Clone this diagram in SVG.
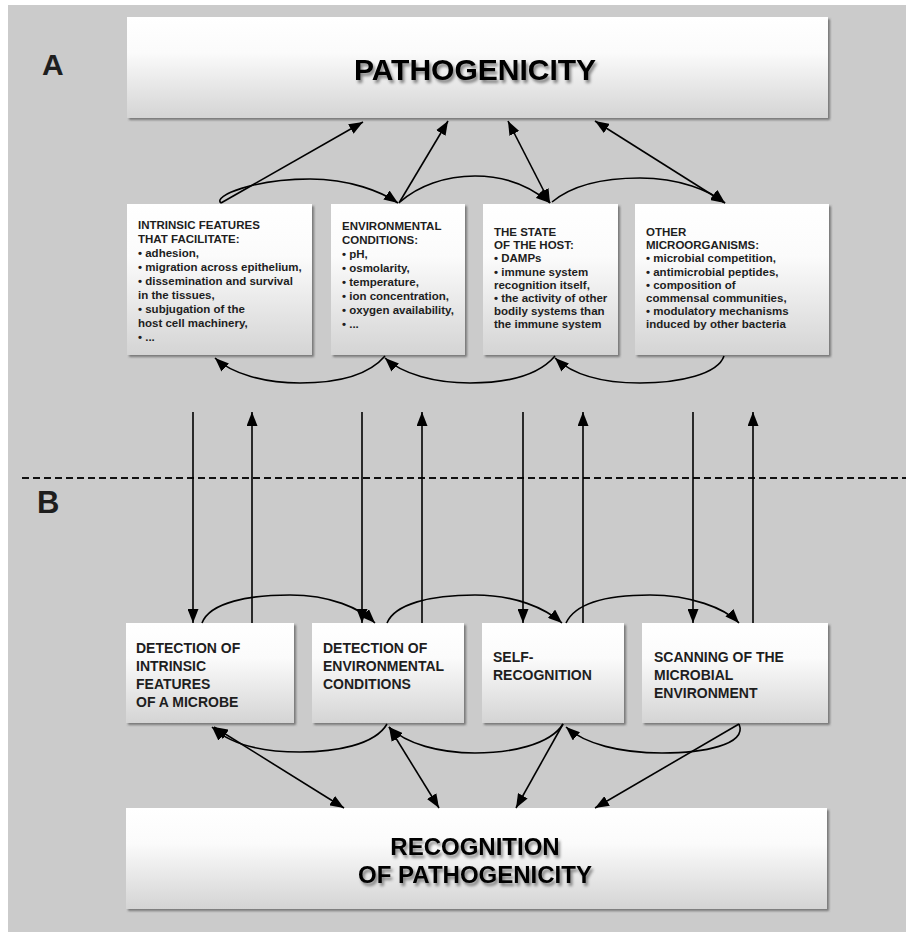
<svg xmlns="http://www.w3.org/2000/svg" width="906" height="932" viewBox="0 0 906 932">
<defs>
<linearGradient id="boxg" x1="0" y1="0" x2="0" y2="1">
<stop offset="0" stop-color="#ffffff"/>
<stop offset="0.35" stop-color="#fbfbfb"/>
<stop offset="1" stop-color="#d4d4d4"/>
</linearGradient>
<filter id="sh" x="-5%" y="-5%" width="112%" height="115%">
<feDropShadow dx="2" dy="2" stdDeviation="1" flood-color="#555" flood-opacity="0.7"/>
</filter>
<filter id="tsh" x="-5%" y="-20%" width="115%" height="150%">
<feDropShadow dx="2" dy="3" stdDeviation="1.5" flood-color="#000" flood-opacity="0.45"/>
</filter>
<marker id="ah" viewBox="0 0 14 11" refX="14" refY="5.5" markerWidth="14" markerHeight="11" markerUnits="userSpaceOnUse" orient="auto-start-reverse">
<path d="M0,0 L14,5.5 L0,11 z" fill="#000"/>
</marker>
<style>
.box{fill:url(#boxg);filter:url(#sh)}
.t{font-family:"Liberation Sans",Arial,sans-serif;font-weight:bold;fill:#1e1e1e}
.s{font-size:11.5px}
.m{font-size:14px}
.big{font-family:"Liberation Sans",Arial,sans-serif;font-weight:bold;fill:#000;filter:url(#tsh)}
.c{fill:none;stroke:#000;stroke-width:1.6}
.a{marker-end:url(#ah)}
.d{marker-start:url(#ah);marker-end:url(#ah)}
</style>
</defs>
<rect x="0" y="0" width="906" height="932" fill="#ffffff"/>
<rect x="8" y="5" width="898" height="927" fill="#cbcbcb"/>

<text class="t" x="42" y="75" font-size="30" fill="#000">A</text>
<text class="t" x="37" y="513" font-size="31" fill="#000">B</text>

<line x1="22" y1="478" x2="906" y2="478" stroke="#111" stroke-width="2" stroke-dasharray="7 4"/>

<g id="pathogenicity">
<rect class="box" x="127" y="17" width="701" height="101"/>
<text class="big" x="475" y="80" font-size="30" text-anchor="middle">PATHOGENICITY</text>
</g>

<g id="intrinsic">
<rect class="box" x="127" y="204" width="185" height="151"/>
<text class="t s" x="138" y="229">INTRINSIC FEATURES</text>
<text class="t s" x="138" y="243">THAT FACILITATE:</text>
<text class="t s" x="138" y="257">• adhesion,</text>
<text class="t s" x="138" y="271">• migration across  epithelium,</text>
<text class="t s" x="138" y="285">• dissemination and survival</text>
<text class="t s" x="138" y="299">in the tissues,</text>
<text class="t s" x="138" y="313">• subjugation of the</text>
<text class="t s" x="138" y="327">host cell machinery,</text>
<text class="t s" x="138" y="341">• ...</text>
</g>

<g id="environmental">
<rect class="box" x="331" y="204" width="134" height="151"/>
<text class="t s" x="342" y="230">ENVIRONMENTAL</text>
<text class="t s" x="342" y="244">CONDITIONS:</text>
<text class="t s" x="342" y="258">• pH,</text>
<text class="t s" x="342" y="272">• osmolarity,</text>
<text class="t s" x="342" y="286">• temperature,</text>
<text class="t s" x="342" y="300">• ion concentration,</text>
<text class="t s" x="342" y="314">• oxygen  availability,</text>
<text class="t s" x="342" y="328">• ...</text>
</g>

<g id="host">
<rect class="box" x="483" y="204" width="135" height="151"/>
<text class="t s" x="494" y="236">THE STATE</text>
<text class="t s" x="494" y="249">OF THE HOST:</text>
<text class="t s" x="494" y="262">• DAMPs</text>
<text class="t s" x="494" y="276">• immune system</text>
<text class="t s" x="494" y="289">recognition itself,</text>
<text class="t s" x="494" y="302">• the activity of other</text>
<text class="t s" x="494" y="315">bodily systems  than</text>
<text class="t s" x="494" y="328">the immune system</text>
</g>

<g id="microorganisms">
<rect class="box" x="635" y="204" width="194" height="151"/>
<text class="t s" x="646" y="236">OTHER</text>
<text class="t s" x="646" y="249">MICROORGANISMS:</text>
<text class="t s" x="646" y="262">• microbial competition,</text>
<text class="t s" x="646" y="276">• antimicrobial peptides,</text>
<text class="t s" x="646" y="289">• composition of</text>
<text class="t s" x="646" y="302">commensal communities,</text>
<text class="t s" x="646" y="315">• modulatory mechanisms</text>
<text class="t s" x="646" y="328">induced by other bacteria</text>
</g>

<g id="det-intrinsic">
<rect class="box" x="126" y="623" width="168" height="100"/>
<text class="t m" x="136" y="653">DETECTION OF</text>
<text class="t m" x="136" y="671">INTRINSIC</text>
<text class="t m" x="136" y="689">FEATURES</text>
<text class="t m" x="136" y="707">OF A MICROBE</text>
</g>

<g id="det-environmental">
<rect class="box" x="312" y="623" width="152" height="100"/>
<text class="t m" x="323" y="653">DETECTION OF</text>
<text class="t m" x="323" y="671">ENVIRONMENTAL</text>
<text class="t m" x="323" y="689">CONDITIONS</text>
</g>

<g id="self-recognition">
<rect class="box" x="482" y="623" width="142" height="100"/>
<text class="t m" x="493" y="662">SELF-</text>
<text class="t m" x="493" y="680">RECOGNITION</text>
</g>

<g id="scanning">
<rect class="box" x="642" y="623" width="186" height="100"/>
<text class="t m" x="654" y="662">SCANNING OF THE</text>
<text class="t m" x="654" y="680">MICROBIAL</text>
<text class="t m" x="654" y="698">ENVIRONMENT</text>
</g>

<g id="recognition">
<rect class="box" x="126" y="808" width="701" height="101"/>
<text class="big" x="475" y="855" font-size="24" text-anchor="middle">RECOGNITION</text>
<text class="big" x="475" y="883" font-size="24" text-anchor="middle">OF PATHOGENICITY</text>
</g>

<g id="connectors">
<!-- top diagonals -->
<path class="c a" d="M221,203 L363,122"/>
<path class="c a" d="M399,203 L448,121"/>
<path class="c d" d="M508,121 L550,203"/>
<path class="c d" d="M595,121 L725,203"/>
<!-- top arcs -->
<path class="c a" d="M221,203 C212,196 255,179 310,179 C350,179 382,192 398,203"/>
<path class="c a" d="M400,202 C418,186 445,176 475,176 C510,176 535,190 550,203"/>
<path class="c a" d="M552,202 C570,187 600,178 640,178 C680,178 710,191 725,203"/>
<!-- arcs under middle boxes -->
<path class="c a" d="M385,356 C368,376 335,383 300,383 C265,383 232,374 215,358"/>
<path class="c a" d="M555,356 C538,376 505,383 470,383 C435,383 402,374 385,358"/>
<path class="c a" d="M724,356 C718,374 680,383 640,383 C600,383 572,374 555,358"/>
<!-- verticals -->
<path class="c a" d="M193,412 L193,623"/>
<path class="c a" d="M252,623 L252,412"/>
<path class="c a" d="M362,412 L362,623"/>
<path class="c a" d="M422,623 L422,412"/>
<path class="c a" d="M523,412 L523,623"/>
<path class="c a" d="M583,623 L583,412"/>
<path class="c a" d="M693,412 L693,623"/>
<path class="c a" d="M753,623 L753,412"/>
<!-- arcs above bottom boxes -->
<path class="c a" d="M202,623 C210,602 250,595 290,595 C330,595 360,608 375,623"/>
<path class="c a" d="M387,623 C395,604 430,595 475,595 C515,595 545,608 562,623"/>
<path class="c a" d="M566,623 C575,604 605,595 650,595 C690,595 725,608 739,623"/>
<!-- arcs under bottom boxes -->
<path class="c a" d="M387,724 C375,745 335,752 300,752 C262,752 230,744 212,727"/>
<path class="c a" d="M563,724 C550,745 510,753 475,753 C440,753 406,744 389,727"/>
<path class="c a" d="M739,724 C748,745 702,753 662,753 C620,753 585,744 566,727"/>
<!-- bottom diagonals -->
<path class="c d" d="M214,727 L344,808"/>
<path class="c d" d="M389,727 L439,808"/>
<path class="c a" d="M563,724 L516,808"/>
<path class="c a" d="M739,724 L595,808"/>
</g>
</svg>
